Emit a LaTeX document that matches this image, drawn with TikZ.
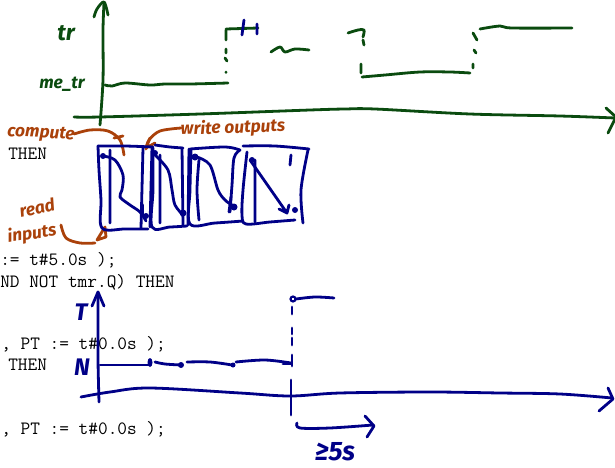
\documentclass[tikz,border=0pt]{standalone}
\usepackage{fontspec}
\setmainfont{Fira Sans}
\newfontfamily\hwfont{Fira Sans}[BoldItalicFont={Fira Sans Bold Italic}]
\definecolor{pgreen}{RGB}{10,75,15}
\definecolor{pbrown}{RGB}{170,65,10}
\definecolor{pblue}{RGB}{0,0,135}
\tikzset{
 x=0.75pt,y=-0.75pt,
 ink/.style={line width=2.1pt,line cap=round,line join=round},
 gr/.style={ink,draw=pgreen},
 bl/.style={ink,draw=pblue},
 br/.style={ink,draw=pbrown},
 code/.style={anchor=base west,inner sep=0pt,font=\ttfamily\fontsize{14.1}{16}\selectfont,text=black},
 hw/.style={inner sep=0pt,font=\hwfont\bfseries\itshape\fontsize{#1}{#1}\selectfont},
 hw/.default=13
}
\newcommand{\sk}[2]{\draw[#1] plot[smooth,tension=0.55] coordinates {#2};}
\begin{document}
\begin{tikzpicture}
\useasboundingbox (0,0) rectangle (615,468);
% code text
\node[code] (c1) at (8,159) {THEN};
\node[code] (c2) at (0,265) {:= t\#5.0s );};
\node[code] (c3) at (0,287) {ND NOT tmr.Q) THEN};
\node[code] (c4) at (1,349) {, PT := t\#0.0s );};
\node[code] (c5) at (8,370) {THEN};
\node[code] (c6) at (1,434) {, PT := t\#0.0s );};
% green plot
\sk{gr}{(100,125)(103,80)(103,30)(104,3)}
\sk{gr}{(94,17)(97,9)(104,2)(108,15)}
\sk{gr}{(74,117)(100,117)(200,114)(310,110)(345,109)(375,109)(470,114)(560,116)(615,118)}
\draw[gr] (606,108)--(616,117)--(608,133);
\sk{gr}{(105,85)(112,86)(125,83)(150,85)(165,84)(190,84)(228,83)}
\draw[gr] (226,30)--(226,40) (226,49)--(226,53) (225,58)--(227,61) (226,72)--(226,72.5);
\draw[gr] (226,29)--(258,28);
\draw[bl] (244,20)--(242,35) (257,24)--(257,34);
\sk{gr}{(271,52)(280,47)(285,52)(295,49)(309,50)}
\sk{gr}{(348,33)(358,30)(364,30)(363,37)}
\draw[gr] (363,40)--(364,45) (361,64)--(361,73);
\sk{gr}{(362,77)(385,75)(420,72)(450,72)(470,73)}
\draw[gr] (473,33)--(477,40) (474,50)--(476,53) (473,64)--(473,68);
\sk{gr}{(480,29)(500,26)(512,28)(572,28)}
\node[hw=17,text=pgreen] (tr) at (66,33) {tr};
\node[hw=13,text=pgreen] (metr) at (62,84) {me\_tr};
% brown
\node[hw=13,text=pbrown,rotate=-3] (compute) at (41,134) {compute};
\node[hw=13,text=pbrown,rotate=2] (write) at (233,128) {write outputs};
\node[hw=13,text=pbrown,rotate=12] (read) at (37,208) {read};
\node[hw=13,text=pbrown,rotate=8] (inputs) at (32,234) {inputs};
\sk{br}{(74,134)(90,130)(108,131)(120,140)(124,155)}
\draw[br] (114,138)--(123,136);
\sk{br}{(146,149)(149,140)(160,131)(181,128)}
\draw[br] (150,138)--(146,148)--(155,143);
\sk{br}{(61,225)(66,238)(80,243)(95,243)}
\draw[br,fill=white] (97,240)--(105,227)--(106,237)--cycle;
% blue boxes
\sk{bl}{(98,146)(125,146)(153,147)}
\sk{bl}{(98,146)(99,170)(101,200)(102,228)(125,229)(148,229)}
\draw[bl] (152,147)--(150,227) (110,150)--(110,223) (143,148)--(141,228);
\sk{bl}{(155,145)(170,147)(183,148)}
\sk{bl}{(153,148)(153,190)(152,227)(170,227)(187,226)}
\draw[bl] (160,155)--(160,223) (182,148)--(183,225) (189,149)--(188,225);
\sk{bl}{(190,149)(225,147)(240,150)}
\sk{bl}{(191,150)(190,190)(190,224)(215,223)(243,221)}
\sk{bl}{(199,160)(197,190)(199,220)}
\sk{bl}{(240,150)(234,158)(232,185)(230,212)}
\sk{bl}{(243,146)(275,146)(309,149)}
\sk{bl}{(247,152)(243,190)(242,215)(246,224)(270,222)(295,220)}
\draw[bl] (255,160)--(255,222) (291,155)--(290,165);
\sk{bl}{(308,150)(301,190)(303,223)}
% blue data flow
\fill[pblue] (103,156) circle (3);
\sk{bl}{(103,156)(115,160)(123,175)(122,190)(120,197)(130,205)(140,212)(146,221)}
\draw[bl] (143,205)--(143,215);
\fill[pblue] (146,216) circle (3);
\fill[pblue] (155,153) circle (3);
\sk{bl}{(155,155)(168,170)(172,190)(175,205)(183,215)}
\fill[pblue] (183,213) circle (3.5);
\fill[pblue] (195,157) circle (3.5);
\sk{bl}{(197,157)(210,165)(218,190)(225,200)(232,205)}
\draw[bl] (231,197)--(229,212);
\fill[pblue] (234,207) circle (3.5);
\fill[pblue] (252,160) circle (3);
\draw[bl] (250,160)--(287,213) (279,209)--(287,213)--(289,205);
\fill[pblue] (295,210) circle (3);
% blue plot
\sk{bl}{(98,292)(98,320)(98,360)(99,402)}
\draw[bl] (92,306)--(98,292)--(104,306);
\sk{bl}{(81,397)(110,392)(150,388)(240,393)(290,396)(340,393)(430,392)(500,393)(560,394)(612,398)}
\draw[bl] (608,388)--(613,399)--(599,411);
\draw[bl] (291,380)--(291,415);
\draw[bl] (100,365)--(150,365);
\fill[pblue] (150,362.5) ellipse (2.5 and 4.5);
\sk{bl}{(155,362)(165,364)(181,365)}
\fill[pblue] (181,365) circle (3);
\sk{bl}{(187,362)(210,362)(232,365)}
\fill[pblue] (233,365) circle (2.5);
\sk{bl}{(236,362)(265,360)(291,363)}
\draw[bl] (292,355)--(292,366) (292,338)--(292,345) (292,328)--(292,334) (292,307)--(292,314);
\draw[bl] (283,364)--(291,364);
\draw[draw=pblue,line width=1.6pt] (293,299) circle (2.5);
\sk{bl}{(296,299)(315,297)(334,298)}
\sk{bl}{(297,423)(300,428)(330,428)(373,425)}
\draw[bl] (365,416)--(374,426)--(367,437);
\node[hw=18,text=pblue] (T) at (81,312) {T};
\node[hw=18,text=pblue] (N) at (82,367) {N};
\node[hw=20,text=pblue] (ge) at (335,452) {≥5s};
\end{tikzpicture}
\end{document}
